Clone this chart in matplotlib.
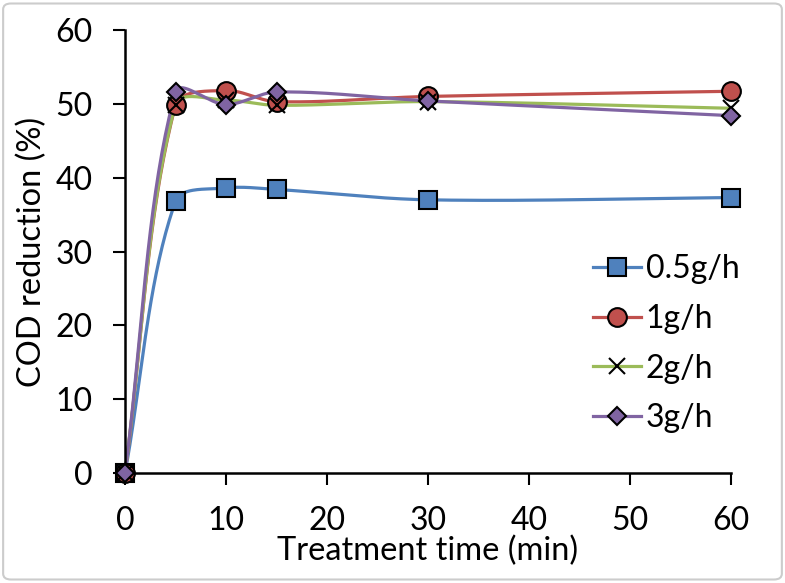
import numpy as np
import matplotlib
matplotlib.use("Agg")
import matplotlib.pyplot as plt
from matplotlib.patches import FancyBboxPatch
from matplotlib.lines import Line2D

# data
time_min = [0, 5, 10, 15, 30, 60]
cod_05 = [0, 36.8, 38.6, 38.4, 37.0, 37.3]
cod_1 = [0, 49.8, 51.8, 50.3, 51.0, 51.7]
cod_2 = [0, 49.9, 50.5, 49.8, 50.3, 49.4]
cod_3 = [0, 51.6, 49.9, 51.6, 50.4, 48.4]
labels = ["0.5g/h", "1g/h", "2g/h", "3g/h"]


# excel-like smoothed line: bezier segments, tangents weighted by segment length
# (lengths measured in screen units so steep jumps don't overshoot)
def smooth(x, y, kx=10.08, ky=7.38, n=40):
	x = np.asarray(x, float) * kx
	y = np.asarray(y, float) * ky
	pts = np.column_stack([x, y])
	m = len(pts)
	seg = np.hypot(np.diff(x), np.diff(y))
	t = np.linspace(0, 1, n)[:, None]
	out = []
	for i in range(m - 1):
		p0, p3 = pts[i], pts[i+1]
		if i == 0:
			p1 = p0 + (p3 - p0) / 3
		else:
			w = seg[i] / (seg[i-1] + seg[i])
			p1 = p0 + (pts[i+1] - pts[i-1]) * w / 3
		if i == m - 2:
			p2 = p3 - (p3 - p0) / 3
		else:
			w = seg[i] / (seg[i] + seg[i+1])
			p2 = p3 - (pts[i+2] - pts[i]) * w / 3
		b = (1-t)**3*p0 + 3*(1-t)**2*t*p1 + 3*(1-t)*t**2*p2 + t**3*p3
		out.append(b)
	out = np.vstack(out)
	return out[:, 0] / kx, out[:, 1] / ky


plt.rcParams['font.family'] = ['Lato', 'DejaVu Sans']

fig = plt.figure(figsize=(7.85, 5.83), dpi=100)
ax = fig.add_axes([125/785, 1-473/583, 606/785, 443/583])

series = [cod_05, cod_1, cod_2, cod_3]
colors = ['#4F81BD', '#C0504D', '#9BBB59', '#8064A2']
markers = ['s', 'o', 'x', 'D']
msizes = [13.5, 13.5, 11, 9.5]

handles = []
for vals, c, m, ms in zip(series, colors, markers, msizes):
	sx, sy = smooth(time_min, vals)
	ax.plot(sx, sy, color=c, lw=2.3, zorder=2, clip_on=False)
	fc = 'black' if m == 'x' else c
	ax.plot(time_min, vals, ls='none', marker=m, ms=ms, mfc=fc, mec='black', mew=1.5, zorder=3, clip_on=False)
	handles.append(Line2D([], [], color=c, lw=2.3, marker=m, ms=ms, mfc=fc, mec='black', mew=1.5))

ax.set_xlim(0, 60)
ax.set_ylim(0, 60)
ax.set_xticks(range(0, 61, 10))
ax.set_yticks(range(0, 61, 10))
ax.tick_params(labelsize=23, length=8.5, width=1.5, direction='out', pad=15)
for s in ['top', 'right']:
	ax.spines[s].set_visible(False)
for s in ['left', 'bottom']:
	ax.spines[s].set_linewidth(1.8)

ax.set_xlabel('Treatment time (min)', fontsize=23.5, labelpad=0)
ax.set_ylabel('COD reduction (%)', fontsize=23.5, labelpad=6)

fig.legend(handles, labels, loc='upper left', bbox_to_anchor=(593/785, 1-254/583), frameon=False,
	fontsize=23, handlelength=1.5, handletextpad=0.15, labelspacing=0.62, borderpad=0, borderaxespad=0)

fig.patches.append(FancyBboxPatch((0.004, 0.006), 0.992, 0.988, boxstyle='round,pad=0,rounding_size=0.01',
	transform=fig.transFigure, fill=False, edgecolor='#cccccc', lw=1.5))

fig.savefig('out.png', dpi=100)
